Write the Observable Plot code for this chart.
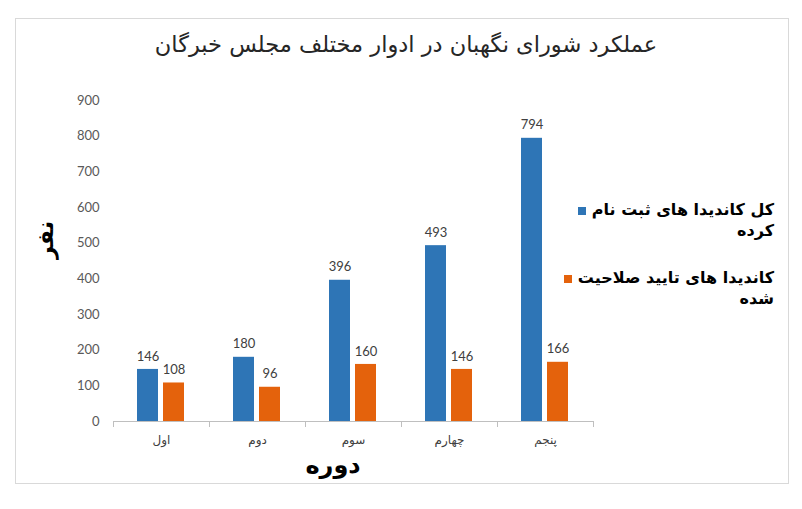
<!DOCTYPE html>
<html>
<head>
<meta charset="utf-8">
<script src="https://cdn.jsdelivr.net/npm/d3@7"></script>
<script src="https://cdn.jsdelivr.net/npm/@observablehq/plot@0.6"></script>
<style>
  html, body { margin: 0; padding: 0; background: #fff; }
  #wrap { position: relative; width: 802px; height: 509px; overflow: hidden; background: #fff; }
  #border { position: absolute; left: 15px; top: 18px; width: 774px; height: 466px; border: 1.5px solid #d9d9d9; box-sizing: border-box; }
  #title { position: absolute; left: 0; width: 812px; top: 31px; text-align: center; font-family: "DejaVu Sans", sans-serif; font-size: 22.5px; color: #262626; direction: rtl; }
  #chart { position: absolute; left: 0; top: 70px; }
  #ylabel { position: absolute; left: 45px; top: 240px; transform: translate(-50%, -50%) rotate(-90deg); font-family: "DejaVu Sans", sans-serif; font-weight: bold; font-size: 22px; color: #000; white-space: nowrap; direction: rtl; }
  #xlabel { position: absolute; left: 333px; top: 465px; transform: translate(-50%, -50%); font-family: "DejaVu Sans", sans-serif; font-weight: bold; font-size: 24px; color: #000; white-space: nowrap; direction: rtl; }
  .leg { position: absolute; right: 28px; width: 230px; direction: rtl; text-align: right; font-family: "DejaVu Sans", sans-serif; font-weight: bold; font-size: 16px; line-height: 21px; color: #000; }
  .sw { display: inline-block; width: 8px; height: 8px; margin-right: 6px; vertical-align: middle; }
</style>
</head>
<body>
<div id="wrap">
  <div id="border"></div>
  <div id="title"></div>
  <div id="chart"></div>
  <div id="ylabel"></div>
  <div id="xlabel"></div>
  <div id="leg0" class="leg" style="top:199px"></div>
  <div id="leg1" class="leg" style="top:267px"></div>
</div>
<script>
const titleText = "عملکرد شورای نگهبان در ادوار مختلف مجلس خبرگان";
const yLabel = "نفر";
const xLabel = "دوره";
const categories = ["اول", "دوم", "سوم", "چهارم", "پنجم"];
const registered = [146, 180, 396, 493, 794];
const approved = [108, 96, 160, 146, 166];
const seriesNames = ["کل کاندیدا های ثبت نام کرده", "کاندیدا های تایید صلاحیت شده"];
const legendLine1 = ["کل کاندیدا های ثبت نام", "کاندیدا های تایید صلاحیت"];
const legendLine2 = ["کرده", "شده"];
const seriesColors = ["#2E75B6", "#E4620C"];
const yTicks = [0, 100, 200, 300, 400, 500, 600, 700, 800, 900];

const data = categories.flatMap((c, i) => [
  {period: c, series: seriesNames[0], value: registered[i]},
  {period: c, series: seriesNames[1], value: approved[i]}
]);

document.getElementById("title").textContent = titleText;
document.getElementById("ylabel").textContent = yLabel;
document.getElementById("xlabel").textContent = xLabel;
[0, 1].forEach(i => {
  const el = document.getElementById("leg" + i);
  const s1 = document.createElement("span");
  s1.textContent = legendLine1[i];
  const sw = document.createElement("span");
  sw.className = "sw";
  sw.style.background = seriesColors[i];
  const br = document.createElement("br");
  const s2 = document.createElement("span");
  s2.textContent = legendLine2[i];
  el.append(s1, sw, br, s2);
});

const chart = Plot.plot({
  width: 600,
  height: 390,
  marginTop: 30,
  marginBottom: 39,
  marginLeft: 112,
  marginRight: 7,
  style: {fontFamily: "Lato, sans-serif", background: "transparent"},
  fx: {domain: categories, padding: 0, label: null},
  x: {domain: seriesNames, paddingInner: 0.19, paddingOuter: 0.91, axis: null},
  y: {domain: [0, 900], label: null},
  color: {domain: seriesNames, range: seriesColors},
  marks: [
    Plot.axisY({ticks: yTicks, tickSize: 0, tickPadding: 14, fontSize: 13, fill: "#595959", label: null}),
    Plot.axisFx({anchor: "bottom", tickSize: 0, tickPadding: 14, fontSize: 12, fill: "#404040", fontFamily: "DejaVu Sans, sans-serif", label: null}),
    Plot.barY(data, {fx: "period", x: "series", y: "value", fill: "series"}),
    Plot.text(data, {fx: "period", x: "series", y: "value", text: d => String(d.value), dy: -13, fontSize: 13, fill: "#404040"}),
    Plot.ruleY([0], {stroke: "#bfbfbf"}),
    Plot.frame({anchor: "left", insetTop: 321, insetBottom: -5, stroke: "#bfbfbf"}),
    Plot.frame({anchor: "right", insetTop: 321, insetBottom: -5, stroke: "#bfbfbf"})
  ]
});
document.getElementById("chart").appendChild(chart);
</script>
</body>
</html>
